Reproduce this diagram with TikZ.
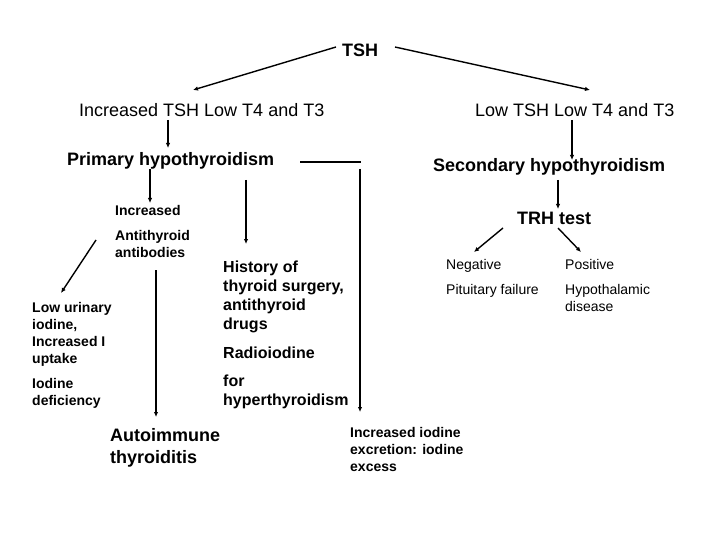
\documentclass[tikz,border=0pt]{standalone}
\usepackage{fontspec}
\setmainfont{Liberation Sans}
\usetikzlibrary{arrows.meta}
\tikzset{
  arr/.style={draw=black, line width=1.4pt, -{Latex[length=5pt,width=4.5pt]}},
  ln/.style={draw=black, line width=1.2pt},
  txt/.style={inner sep=0pt, anchor=north west, align=left},
  big/.style={txt, font=\fontsize{18}{22}\selectfont},
  bigb/.style={txt, font=\fontsize{18}{22}\selectfont\bfseries},
  midb/.style={txt, font=\fontsize{16}{19}\selectfont\bfseries},
  sml/.style={txt, font=\fontsize{14}{17}\selectfont},
  smlb/.style={txt, font=\fontsize{14}{17}\selectfont\bfseries}
}

\begin{document}
\begin{tikzpicture}[x=1pt, y=-1pt]
  \fill[white] (0,0) rectangle (720,540);
  \useasboundingbox (0,0) rectangle (720,540);

  % text
  \node[bigb, anchor=center] (tsh) at (360,50) {TSH};
  \node[big] (incr) at (79,103.6) {Increased TSH Low T4 and T3};
  \node[big] (lowtsh) at (475,103.6) {Low TSH Low T4 and T3};
  \node[bigb] (prim) at (67,152) {Primary hypothyroidism};
  \node[bigb] (sec) at (433,158.6) {Secondary hypothyroidism};
  \node[bigb] (trh) at (517,212) {TRH test};
  \node[sml] (neg) at (446,259) {Negative\\[8pt]Pituitary failure};
  \node[sml] (pos) at (565,259) {Positive\\[8pt]Hypothalamic\\disease};
  \node[smlb] (abs) at (115,205) {Increased\\[8pt]Antithyroid\\antibodies};
  \node[smlb] (iodef) at (32,302) {Low urinary\\iodine,\\Increased I\\uptake\\[8pt]Iodine\\deficiency};
  \node[bigb] (ait) at (110,428.6) {Autoimmune\\thyroiditis};
  \node[midb] (hist) at (223,260.5) {History of\\thyroid surgery,\\antithyroid\\drugs\\[10pt]Radioiodine\\[9pt]for\\hyperthyroidism};
  \node[smlb] (ioex) at (350,427) {Increased iodine\\excretion: iodine\\excess};

  % arrow ends
  \coordinate (tsh-l) at (336,47);
  \coordinate (tsh-r) at (395,47);
  \coordinate (incr-t) at (193,90);
  \coordinate (low-t) at (590,90);
  \coordinate (incr-b) at (168,120);
  \coordinate (prim-t) at (168,148);
  \coordinate (low-b) at (572,120);
  \coordinate (sec-t) at (572,160);
  \coordinate (sec-b) at (558,180);
  \coordinate (trh-t) at (558,209);
  \coordinate (trh-bl) at (503,228);
  \coordinate (neg-t) at (474,252);
  \coordinate (trh-br) at (558,228);
  \coordinate (pos-t) at (581,252);
  \coordinate (prim-b) at (150,169);
  \coordinate (abs-t) at (150,203);
  \coordinate (prim-r) at (300,162);
  \coordinate (bend) at (361,162);
  \coordinate (drop-t) at (360,169);
  \coordinate (ioex-t) at (360,412);
  \coordinate (hist-a) at (246,180);
  \coordinate (hist-t) at (246,244);
  \coordinate (abs-l) at (96,240);
  \coordinate (iodef-t) at (61,293);
  \coordinate (abs-b) at (156,270);
  \coordinate (ait-t) at (156,417);

  % connectors
  \draw[arr] (tsh-l) -- (incr-t);
  \draw[arr] (tsh-r) -- (low-t);
  \draw[arr] (incr-b) -- (prim-t);
  \draw[arr] (low-b) -- (sec-t);
  \draw[arr] (sec-b) -- (trh-t);
  \draw[arr] (trh-bl) -- (neg-t);
  \draw[arr] (trh-br) -- (pos-t);
  \draw[arr] (prim-b) -- (abs-t);
  \draw[ln] (prim-r) -- (bend);
  \draw[arr] (drop-t) -- (ioex-t);
  \draw[arr] (hist-a) -- (hist-t);
  \draw[arr] (abs-l) -- (iodef-t);
  \draw[arr] (abs-b) -- (ait-t);
\end{tikzpicture}
\end{document}
